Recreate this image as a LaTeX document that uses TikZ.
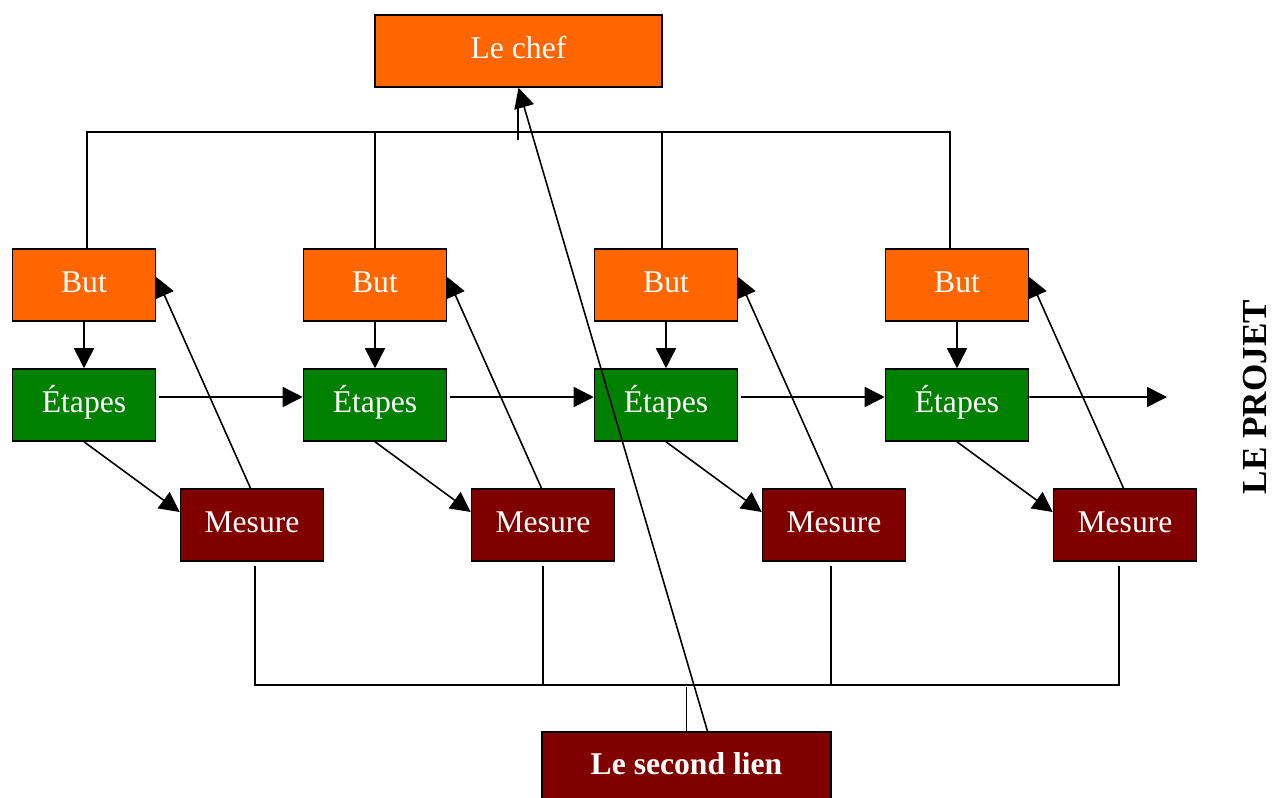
\documentclass[tikz,border=0pt]{standalone}
\usepackage{fontspec}
\setmainfont{Liberation Serif}
\usetikzlibrary{arrows.meta}
\definecolor{orangebut}{HTML}{FF6600}
\definecolor{vertetape}{HTML}{008000}
\definecolor{rougemesure}{HTML}{800000}
\tikzset{
  boite/.style={draw=black,line width=0.9pt,text=white,minimum width=2.86cm,
    minimum height=1.44cm,inner sep=0pt,text height=0.42cm,text depth=0.14cm,
    font=\fontsize{18}{20}\selectfont},
  butbox/.style={boite,fill=orangebut},
  etapebox/.style={boite,fill=vertetape},
  mesurebox/.style={boite,fill=rougemesure}
}
\begin{document}
\begin{tikzpicture}[x=0.02cm,y=-0.02cm,>={Triangle[length=0.4cm,width=0.4cm]},line width=0.9pt]
    \useasboundingbox (0,0) rectangle (1272,798);

    \node[butbox,minimum width=5.74cm] (chef) at (518.5,51) {Le chef};
    \node[mesurebox,minimum width=5.78cm,minimum height=1.4cm,font=\fontsize{18}{20}\selectfont\bfseries] (lien) at (686.5,767) {Le second lien};

    \foreach \i/\x in {1/84,2/375,3/666,4/957}{
        \node[butbox] (but\i) at (\x,285) {But};
        \node[etapebox] (etape\i) at (\x,405) {Étapes};
        \node[mesurebox] (mesure\i) at (\x+168,525) {Mesure};
    }

    \node[rotate=90,inner sep=0pt,font=\fontsize{20}{22}\selectfont\bfseries] (projet) at (1255,397) {LE PROJET};

    % liens du haut
    \coordinate (hautbus) at (518,132);
    \draw ([xshift=0.06cm]but1.north) |- (hautbus) -| ([xshift=-0.14cm]but4.north);
    \draw (but2.north) -- (but2.north |- hautbus);
    \draw ([xshift=-0.08cm]but3.north) -- ([xshift=-0.08cm]but3.north |- hautbus);
    \coordinate (repere) at (518,140);
    \draw (repere) -- ++(0,-32);

    % liens du bas
    \coordinate (basbus) at (687,685);
    \draw ([xshift=0.06cm,yshift=-0.08cm]mesure1.south) |- (basbus) -| ([xshift=-0.12cm,yshift=-0.08cm]mesure4.south);
    \draw ([yshift=-0.08cm]mesure2.south) -- (mesure2.south |- basbus);
    \draw ([xshift=-0.06cm,yshift=-0.08cm]mesure3.south) -- ([xshift=-0.06cm]mesure3.south |- basbus);
    \draw (lien.north) -- ++(0,-44);

    \foreach \i in {1,2,3,4}{
        \draw[->] (but\i) -- (etape\i);
        \draw[->] (etape\i.south) -- ([yshift=0.26cm]mesure\i.west);
        \draw[->] ([xshift=-0.03cm]mesure\i.north) -- ([yshift=0.16cm]but\i.east);
    }
    \foreach \i/\j in {1/2,2/3,3/4}{
        \draw[->] ([xshift=0.06cm,yshift=0.16cm]etape\i.east) -- ([yshift=0.16cm]etape\j.west);
    }
    \coordinate (suite) at (1167,397);
    \draw[->] ([yshift=0.16cm]etape4.east) -- (suite);

    \draw[->] ([xshift=0.42cm]lien.north) -- (chef.south);
\end{tikzpicture}
\end{document}
